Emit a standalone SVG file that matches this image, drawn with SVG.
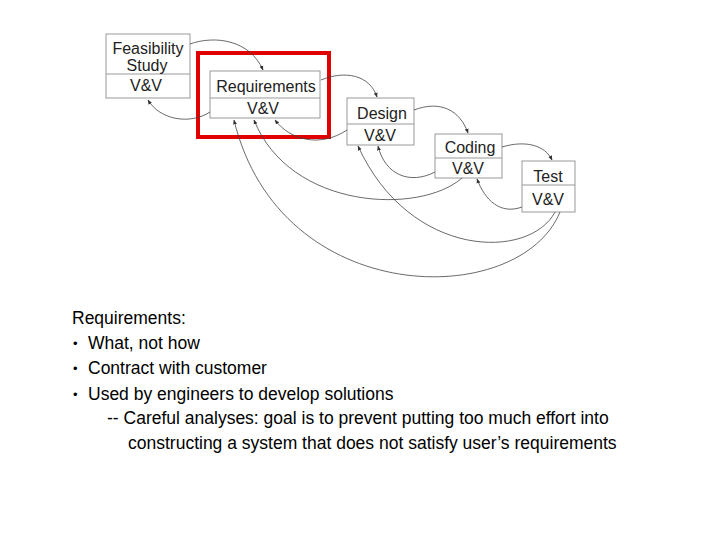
<svg xmlns="http://www.w3.org/2000/svg" width="720" height="540" viewBox="0 0 720 540">
<style>
.box{fill:#fff;stroke:#999;stroke-width:1}
.div{stroke:#999;stroke-width:1}
.lbl{font-family:"Liberation Sans",Arial,sans-serif;font-size:16px;fill:#222;text-anchor:middle}
.c{fill:none;stroke:#444;stroke-width:0.8;marker-end:url(#a)}
.t{font-family:"Liberation Sans",Arial,sans-serif;font-size:17.5px;fill:#000}
.b{font-family:"Liberation Sans",Arial,sans-serif;font-size:13px;fill:#000}
</style>
<defs><marker id="a" viewBox="0 0 10 10" refX="9" refY="5" markerWidth="6" markerHeight="6" orient="auto"><path d="M0,1 L10,5 L0,9 z" fill="#333"/></marker></defs>
<rect width="720" height="540" fill="#fff"/>
<g id="feasibility"><rect class="box" x="106" y="34" width="84" height="64"/><line class="div" x1="106" y1="74" x2="190" y2="74"/><text class="lbl" x="148" y="54">Feasibility</text><text class="lbl" x="147" y="71">Study</text><text class="lbl" x="146" y="91">V&amp;V</text></g>
<g id="requirements"><rect class="box" x="210" y="71" width="110" height="47"/><line class="div" x1="210" y1="98" x2="320" y2="98"/><text class="lbl" x="266" y="92">Requirements</text><text class="lbl" x="263" y="114">V&amp;V</text></g>
<g id="design"><rect class="box" x="347" y="98" width="67" height="47"/><line class="div" x1="347" y1="124" x2="414" y2="124"/><text class="lbl" x="382" y="119">Design</text><text class="lbl" x="380" y="141">V&amp;V</text></g>
<g id="coding"><rect class="box" x="435" y="134" width="67" height="44"/><line class="div" x1="435" y1="158" x2="502" y2="158"/><text class="lbl" x="470" y="153">Coding</text><text class="lbl" x="468" y="174">V&amp;V</text></g>
<g id="test"><rect class="box" x="522" y="161" width="53" height="51"/><line class="div" x1="522" y1="185" x2="575" y2="185"/><text class="lbl" x="548" y="182">Test</text><text class="lbl" x="548" y="205">V&amp;V</text></g>
<g id="highlight"><rect x="198" y="53" width="131" height="84" fill="none" stroke="#e00000" stroke-width="4"/></g>
<g id="connectors">
<path class="c" d="M190,44 C215,35 250,40 263,70"/>
<path class="c" d="M321,80 C345,70 370,75 377,97"/>
<path class="c" d="M414,110 C440,100 460,110 468,133"/>
<path class="c" d="M502,147 C525,140 545,145 552,160"/>
<path class="c" d="M210,112 C190,125 160,120 148,100"/>
<path class="c" d="M347,130 C320,148 290,140 275,120"/>
<path class="c" d="M435,172 C410,185 385,175 378,146"/>
<path class="c" d="M522,207 C500,215 485,200 477,179"/>
<path class="c" d="M462,178 C420,215 290,210 254,120"/>
<path class="c" d="M555,212 C530,260 410,260 358,146"/>
<path class="c" d="M560,212 C520,310 280,310 234,120"/>
</g>
<g id="notes">
<text class="t" x="72" y="324">Requirements:</text>
<text class="b" x="73" y="348">•</text><text class="t" x="88" y="349">What, not how</text>
<text class="b" x="73" y="373">•</text><text class="t" x="88" y="374">Contract with customer</text>
<text class="b" x="73" y="399">•</text><text class="t" x="88" y="400">Used by engineers to develop solutions</text>
<text class="t" x="107" y="424">-- Careful analyses: goal is to prevent putting too much effort into</text>
<text class="t" x="128" y="449">constructing a system that does not satisfy user’s requirements</text>
</g>
</svg>
